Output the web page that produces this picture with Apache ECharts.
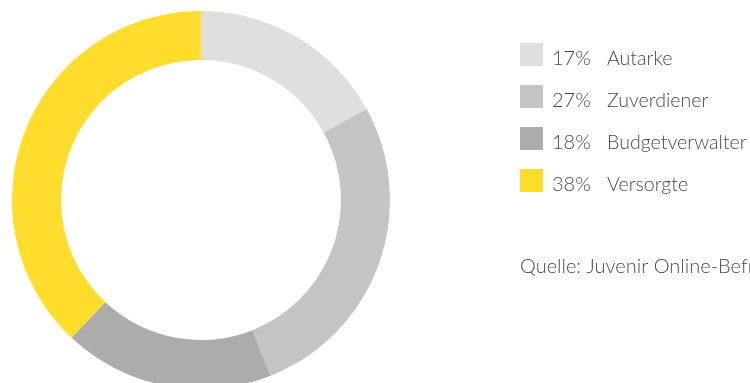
<!DOCTYPE html>
<html>
<head>
<meta charset="utf-8">
<script src="https://cdn.jsdelivr.net/npm/echarts@6/dist/echarts.min.js"></script>
<style>html,body{margin:0;padding:0;background:#fff;}#c{width:750px;height:383px;}</style>
</head>
<body>
<div id="c"></div>
<script>
var categories = ['Autarke', 'Zuverdiener', 'Budgetverwalter', 'Versorgte'];
var values = [17, 27, 18, 38];
var colors = ['#dfdfde', '#c4c4c3', '#acacab', '#fedd2d'];
var sourceText = 'Quelle: Juvenir Online-Befragung';

var chart = echarts.init(document.getElementById('c'), null, {renderer: 'canvas'});
var font = 'Lato, "Open Sans", sans-serif';
var txt = '#4a4a4a';
chart.setOption({
  animation: false,
  color: colors,
  legend: {
    orient: 'vertical',
    left: 520,
    top: 40.5,
    padding: 0,
    itemWidth: 23,
    itemHeight: 23,
    itemGap: 14,
    icon: 'rect',
    selectedMode: false,
    data: categories,
    formatter: function (name) {
      var i = categories.indexOf(name);
      return '{p|' + values[i] + '%}{n|' + name + '}';
    },
    textStyle: {
      color: txt,
      fontFamily: font,
      fontWeight: 300,
      fontSize: 20,
      lineHeight: 20,
      rich: {
        p: {width: 55, lineHeight: 20, padding: [8, 0, 0, 4], color: txt, fontFamily: font, fontWeight: 300, fontSize: 20},
        n: {lineHeight: 20, padding: [8, 0, 0, 0], color: txt, fontFamily: font, fontWeight: 300, fontSize: 19.6}
      }
    }
  },
  graphic: [{
    type: 'text',
    left: 520,
    top: 257,
    style: {text: sourceText, fill: txt, font: '300 20px ' + font}
  }],
  series: [{
    type: 'pie',
    center: [201, 200],
    radius: [140, 189],
    startAngle: 90,
    clockwise: true,
    silent: true,
    label: {show: false},
    labelLine: {show: false},
    itemStyle: {borderWidth: 0},
    data: categories.map(function (c, i) { return {name: c, value: values[i]}; })
  }]
});
</script>
</body>
</html>
